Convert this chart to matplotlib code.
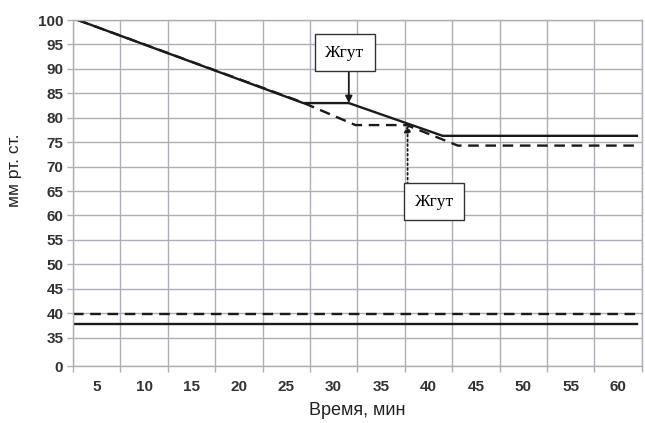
import matplotlib
matplotlib.use('Agg')
import matplotlib.pyplot as plt
import numpy as np

# solid curve (upper) and dashed curve (upper)
solid_t = [3, 26.8, 31.6, 41.5, 62.0]
solid_v = [100, 83.0, 83.0, 76.3, 76.3]
dash_t = [3, 26.5, 32.3, 37.7, 43.1, 62.3]
dash_v = [100, 83.3, 78.5, 78.5, 74.3, 74.3]

# lower horizontal levels
low_solid_t = [2.5, 62.0]
low_solid_v = [37.7, 37.7]
low_dash_t = [2.5, 62.5]
low_dash_v = [39.8, 39.8]

x_ticks = [5, 10, 15, 20, 25, 30, 35, 40, 45, 50, 55, 60]
y_ticks = [0, 35, 40, 45, 50, 55, 60, 65, 70, 75, 80, 85, 90, 95, 100]

# annotations: (text x, text y, arrow from, arrow to)
ann1_text = (31.2, 93.3)
ann1_arrow = ((31.6, 90.8), (31.6, 83.0))
ann2_text = (40.6, 62.8)
ann2_arrow = ((37.8, 65.4), (37.8, 78.5))

GAP = 1.16


def fwd(v):
    v = np.asarray(v, dtype=float)
    return np.where(v >= 35, (v - 30) / 5, 1 - (35 - v) / 35 * GAP)


def inv(p):
    p = np.asarray(p, dtype=float)
    return np.where(p >= 1, 30 + 5 * p, 35 - (1 - p) * 35 / GAP)


plt.rcParams['font.family'] = ['Liberation Sans', 'DejaVu Sans']
grid_c = '#aeaeb8'

fig = plt.figure(figsize=(6.45, 4.23), dpi=100)
ax = fig.add_axes([73 / 645, 1 - 366 / 423, (641.7 - 73) / 645, (366 - 20) / 423])
ax.set_yscale('function', functions=(fwd, inv))
ax.set_ylim(0, 100)
ax.set_xlim(2.5, 62.5)

ax.plot(dash_t, dash_v, color='#1a1a1a', lw=1.7, dashes=(4.5, 2.8))
ax.plot(solid_t, solid_v, color='#1a1a1a', lw=1.7)
ax.plot(low_dash_t, low_dash_v, color='#1a1a1a', lw=1.7, dashes=(4.5, 2.8))
ax.plot(low_solid_t, low_solid_v, color='#1a1a1a', lw=1.7)

ax.set_xticks(x_ticks)
ax.set_xticks(np.arange(2.5, 63, 5), minor=True)
ax.set_yticks(y_ticks)
ax.set_yticklabels([str(v) for v in y_ticks])
ax.tick_params(axis='x', which='major', length=0, pad=10)
ax.tick_params(axis='x', which='minor', length=4, color=grid_c, width=1)
ax.tick_params(axis='y', which='major', length=4, color=grid_c, width=1, pad=3)
ax.tick_params(axis='y', which='minor', length=0)
for lab in ax.get_xticklabels() + ax.get_yticklabels():
    lab.set_fontweight('bold')
    lab.set_fontsize(11)
    lab.set_color('#333333')

ax.grid(True, axis='x', which='minor', color=grid_c, lw=1)
ax.grid(True, axis='y', which='major', color=grid_c, lw=1)
ax.set_axisbelow(True)
for s in ax.spines.values():
    s.set_color(grid_c)
    s.set_linewidth(1)

ax.set_ylabel('мм рт. ст.', fontsize=12.5, color='#222222')
ax.yaxis.set_label_coords(-0.09, 0.566)
ax.set_xlabel('Время, мин', fontsize=13, color='#222222')
ax.xaxis.set_label_coords(0.5, -0.105)

box = dict(boxstyle='square,pad=0.6', fc='white', ec='#333333', lw=1)
ax.text(*ann1_text, 'Жгут', ha='center', va='center', fontsize=12.5,
        family='Liberation Serif', bbox=box, zorder=5)
ax.text(*ann2_text, 'Жгут', ha='center', va='center', fontsize=12.5,
        family='Liberation Serif', bbox=box, zorder=5)
ax.annotate('', xy=ann1_arrow[1], xytext=ann1_arrow[0],
            arrowprops=dict(arrowstyle='-|>', color='#1a1a1a', lw=1.3,
                            shrinkA=0, shrinkB=0, mutation_scale=10))
ax.annotate('', xy=ann2_arrow[1], xytext=ann2_arrow[0],
            arrowprops=dict(arrowstyle='-|>', color='#1a1a1a', lw=1.3, ls=':',
                            shrinkA=0, shrinkB=0, mutation_scale=10))

fig.savefig('out.png', dpi=100)
